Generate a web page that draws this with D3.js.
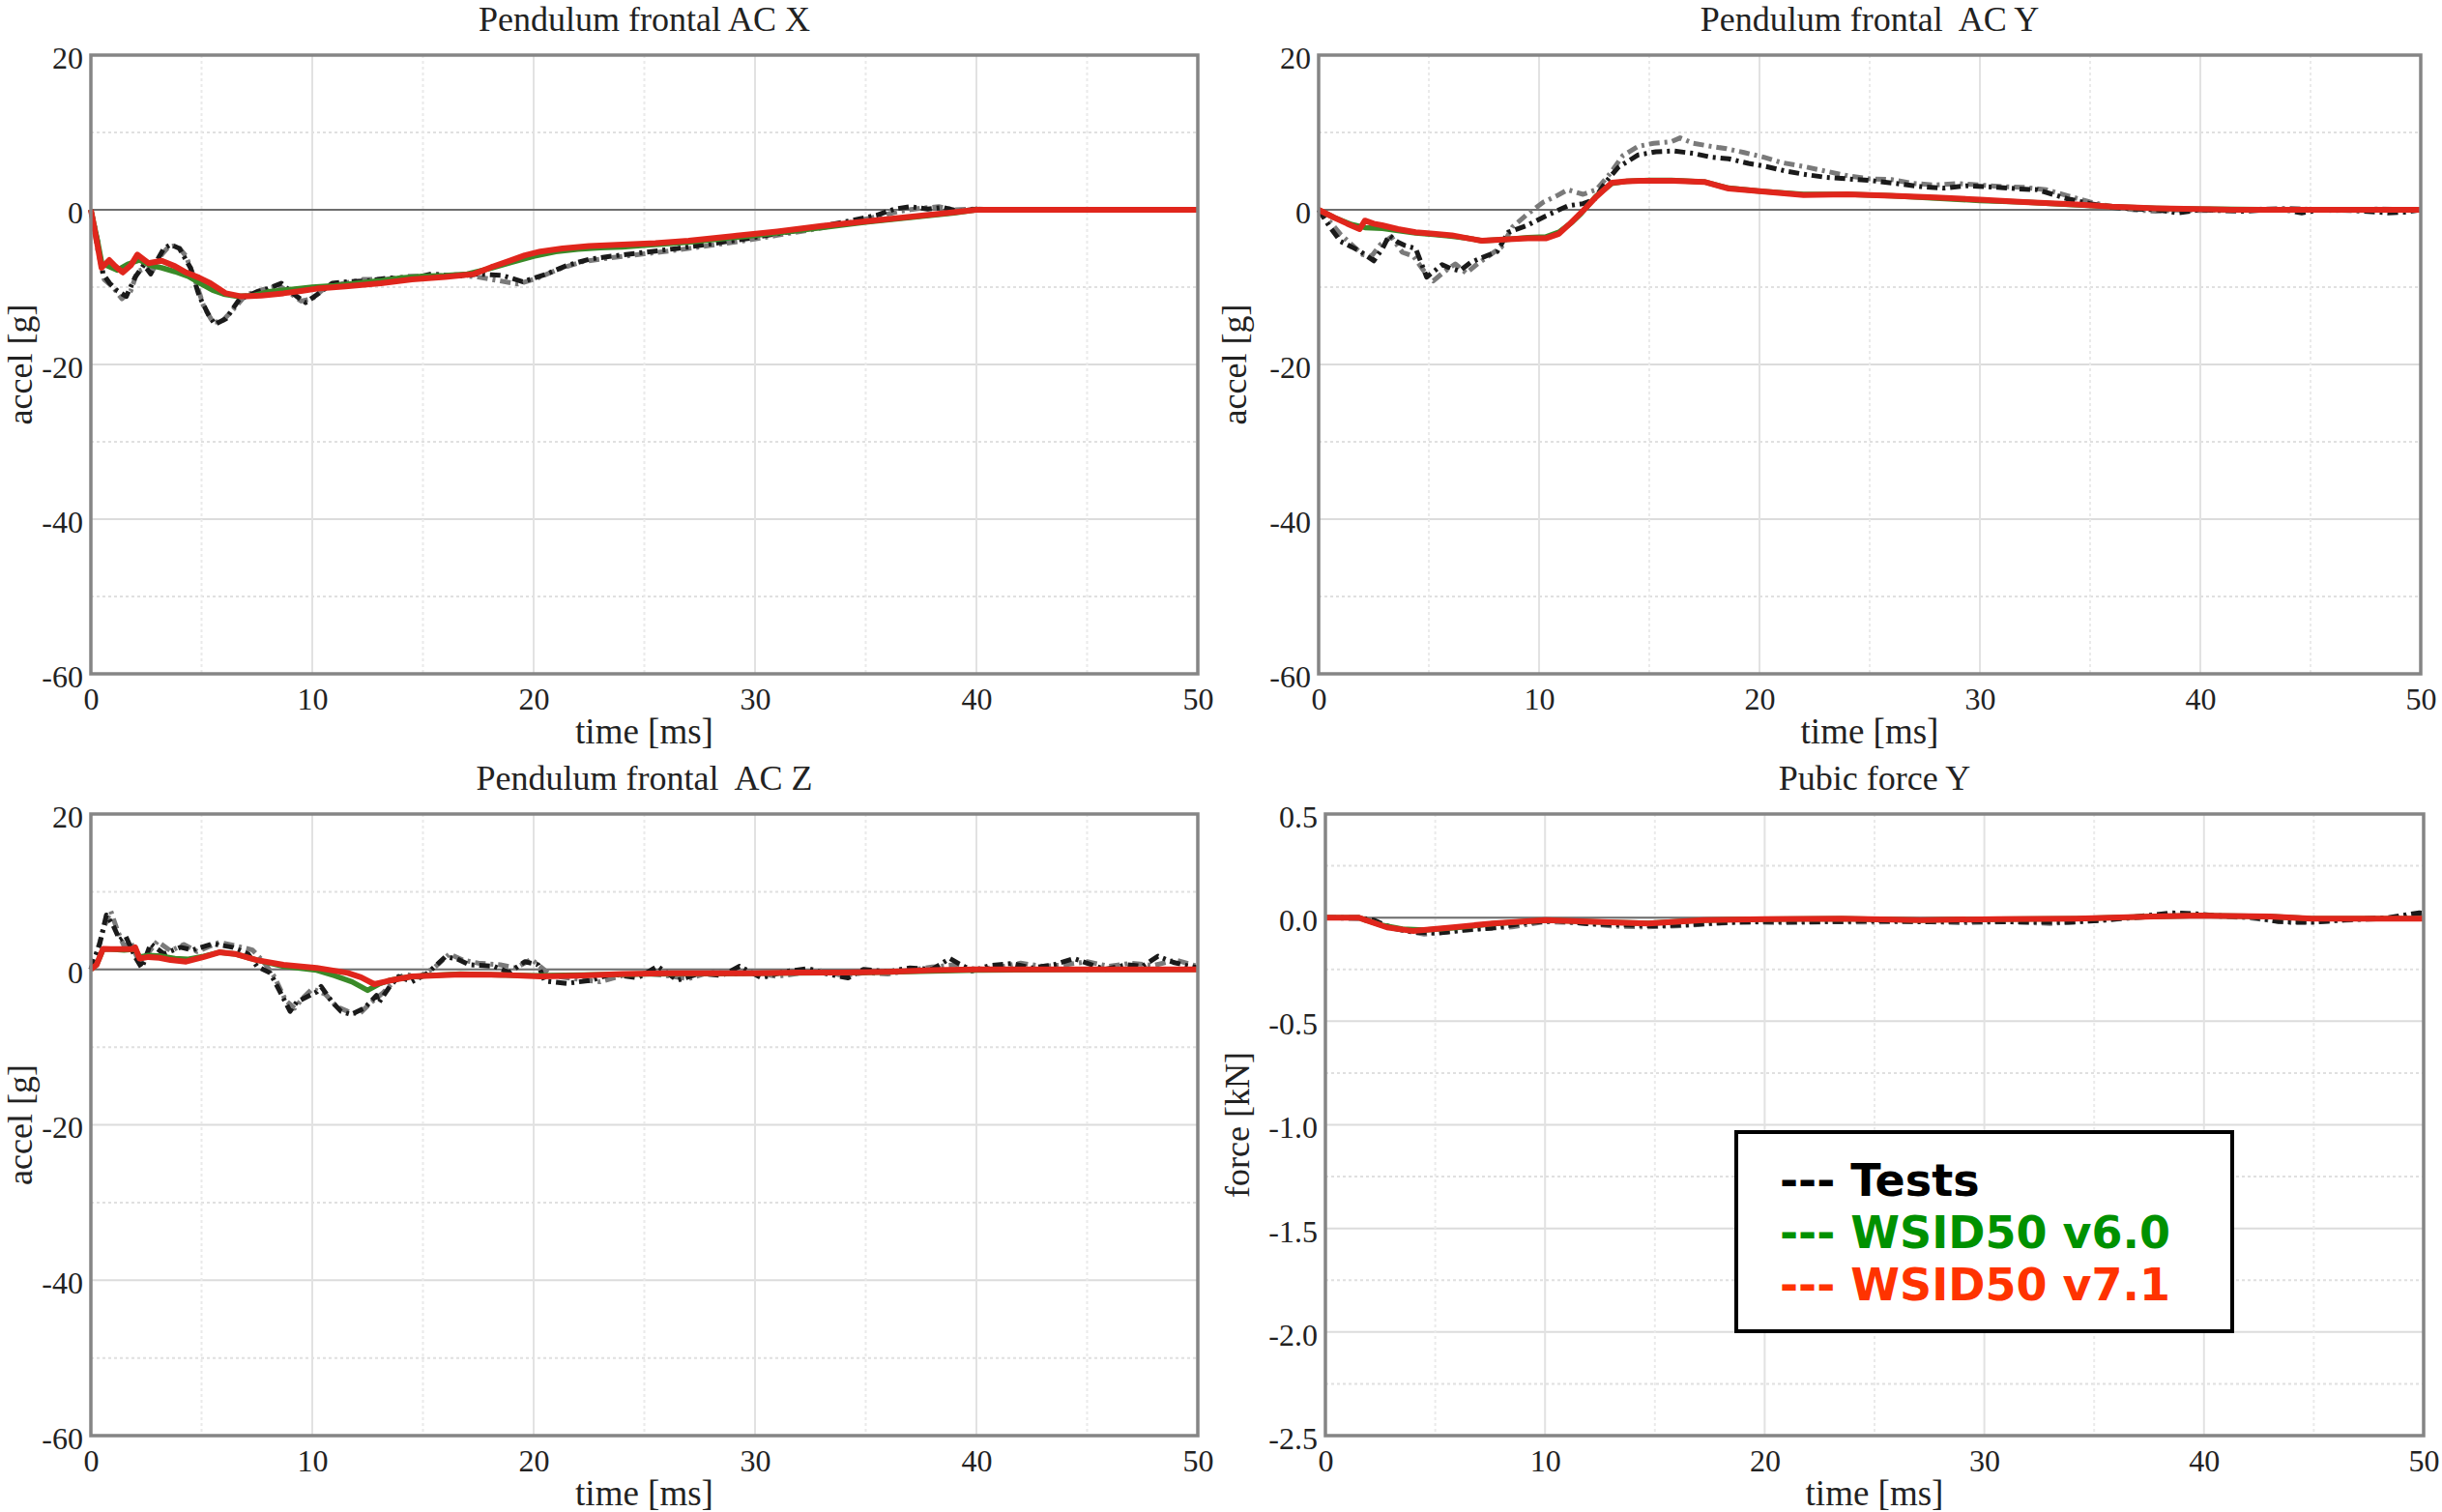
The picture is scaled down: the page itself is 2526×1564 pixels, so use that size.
<!DOCTYPE html>
<html>
<head>
<meta charset="utf-8">
<script src="https://cdn.jsdelivr.net/npm/d3@7"></script>
<style>
  html, body { margin: 0; padding: 0; background: #fff; }
  svg { display: block; }
  text { white-space: pre; }
</style>
</head>
<body>
<svg id="chart" width="2526" height="1564"></svg>
<script>
// ---------------- DATA ----------------
const panelTitles = ["Pendulum frontal AC X", "Pendulum frontal  AC Y", "Pendulum frontal  AC Z", "Pubic force Y"];
const yLabels = ["accel [g]", "accel [g]", "accel [g]", "force [kN]"];
const xLabel = "time [ms]";
const xTicks = [0, 10, 20, 30, 40, 50];
const accelTicks = [20, 0, -20, -40, -60];
const forceTicks = [0.5, 0.0, -0.5, -1.0, -1.5, -2.0, -2.5];
const seriesNames = ["Tests", "WSID50 v6.0", "WSID50 v7.1"];

// Pendulum frontal AC X  [time ms, accel g]
const acxTest1 = [[0,0],[0.3,-4],[0.55,-8.3],[0.85,-9.5],[1.2,-10.5],[1.6,-11.2],[2.0,-8.7],[2.4,-7.1],[2.7,-8.3],[3.0,-6.5],[3.3,-5],[3.6,-4.5],[4.0,-5],[4.5,-7.5],[4.9,-11.2],[5.3,-13.5],[5.6,-14.8],[6.1,-14.1],[6.7,-11.6],[7.5,-10.6],[8.0,-10.2],[8.6,-9.5],[9.0,-10.5],[9.3,-11.2],[9.7,-12],[10.2,-11],[10.9,-9.5],[11.6,-9.3],[12.5,-9.2],[13.5,-8.8],[14.5,-8.9],[15.4,-8.3],[16.5,-8.6],[17.5,-8.3],[18.6,-8.5],[19.5,-9.3],[20.5,-8.4],[21.5,-7.2],[22.5,-6.4],[23.5,-6.0],[25,-5.5],[26.5,-5.0],[28,-4.4],[29.5,-3.8],[31,-3.1],[32.5,-2.4],[34,-1.6],[35.5,-0.7],[36.3,0.1],[37,0.4],[37.8,0.1],[38.5,0.3],[39.2,-0.2],[40,0.1],[41,0],[50,0]];
const acxTest2 = [[0,0],[0.3,-5],[0.6,-9],[1.0,-10],[1.4,-11.5],[1.8,-10.5],[2.1,-8],[2.5,-7.5],[2.8,-7.8],[3.2,-5.8],[3.5,-4.8],[3.9,-4.6],[4.3,-6],[4.7,-9],[5.1,-12.5],[5.5,-14.5],[5.9,-14.5],[6.4,-13],[7.0,-11],[7.8,-10.3],[8.5,-9.8],[9.0,-10.8],[9.5,-11.8],[10.0,-11.5],[10.6,-10],[11.3,-9.6],[12.3,-9.0],[13.3,-9.0],[14.3,-8.6],[15.5,-8.6],[16.5,-8.4],[17.5,-8.7],[18.5,-9.2],[19.3,-9.6],[20.2,-8.8],[21.2,-7.6],[22.2,-6.7],[23.5,-6.2],[25,-5.7],[26.5,-5.2],[28,-4.6],[29.5,-4.0],[31,-3.3],[32.5,-2.6],[34,-1.8],[35.5,-0.9],[36.5,-0.2],[37.5,0.2],[38.3,0.4],[39,0],[40,0.1],[41,0],[50,0]];
const acxV60 = [[0,0],[0.3,-4],[0.5,-7],[0.8,-7.3],[1.2,-7.8],[1.7,-7.0],[2.2,-6.5],[2.7,-7.2],[3.2,-7.5],[3.8,-8.0],[4.4,-8.6],[5.0,-9.6],[5.5,-10.4],[6.0,-10.9],[6.6,-11.2],[7.3,-11.1],[8.0,-10.6],[9.0,-10.3],[10.0,-10.0],[11.0,-9.8],[12.0,-9.5],[13.0,-9.2],[14.0,-8.8],[15.0,-8.6],[16.0,-8.5],[17.0,-8.3],[18.0,-7.6],[19.0,-6.8],[20.0,-6.0],[21.0,-5.4],[22.0,-5.1],[23.0,-4.9],[24.0,-4.8],[25.0,-4.6],[27.0,-4.2],[29.0,-3.6],[31.0,-3.0],[33.0,-2.3],[35.0,-1.6],[37.0,-1.0],[39.0,-0.4],[40.0,0],[50,0]];
const acxV71 = [[0,0],[0.2,-3],[0.48,-7.5],[0.83,-6.5],[1.1,-7.3],[1.44,-8.1],[1.8,-7.2],[2.1,-5.8],[2.6,-6.9],[3.2,-6.6],[3.8,-7.3],[4.3,-8.1],[4.9,-8.8],[5.4,-9.5],[6.1,-10.8],[6.8,-11.2],[7.7,-11.1],[8.7,-10.8],[9.5,-10.5],[10.2,-10.2],[11.5,-9.9],[13.1,-9.5],[14.5,-9.0],[16,-8.7],[17.3,-8.3],[18.1,-7.4],[18.9,-6.6],[19.6,-5.9],[20.3,-5.4],[21.3,-5.0],[22.5,-4.7],[24,-4.5],[25.5,-4.3],[27,-4.0],[29,-3.4],[31,-2.8],[33,-2.1],[35,-1.5],[37,-0.9],[39,-0.3],[40,0],[50,0]];

// Pendulum frontal AC Y
const acyTest1 = [[0,0],[0.5,-2.2],[1.0,-4.1],[1.5,-4.8],[1.9,-5.4],[2.5,-6.6],[2.9,-5],[3.2,-3.3],[3.6,-4.2],[3.9,-4.6],[4.4,-5],[4.9,-8.7],[5.3,-7.8],[5.6,-7.1],[6.0,-7.6],[6.4,-7.9],[6.9,-6.8],[7.4,-6.2],[8.1,-5.4],[8.6,-2.9],[9.4,-2.1],[10.3,-0.8],[11.3,0.5],[12.0,0.8],[12.5,1.3],[13.0,3.5],[13.6,5.5],[14.5,7.1],[15.3,7.5],[16.1,7.6],[17.0,7.3],[17.8,6.8],[18.6,6.6],[19.5,6.0],[20.3,5.6],[21.2,5.0],[22,4.6],[23,4.2],[24,4.0],[25,3.8],[26.2,3.4],[27.3,3.0],[28.4,2.8],[29.4,3.1],[30.8,2.9],[31.8,2.7],[32.6,2.6],[33.3,2.0],[34,1.4],[35,0.8],[36,0.3],[37,0.1],[38,0],[39,-0.4],[40,0],[41,-0.1],[42,-0.2],[43,0],[44,-0.1],[44.6,-0.4],[45.5,0],[47,-0.1],[48.5,-0.4],[49.3,-0.3],[50,0]];
const acyTest2 = [[0,0],[0.5,-1.5],[1.0,-3.2],[1.5,-4.5],[2.0,-5.8],[2.4,-6.0],[2.8,-4.5],[3.3,-3.5],[3.8,-5.5],[4.3,-6.0],[4.8,-8.0],[5.2,-9.2],[5.7,-8.0],[6.2,-7.0],[6.7,-8.2],[7.2,-7.0],[7.8,-5.8],[8.3,-4.8],[8.8,-2.2],[9.5,-0.5],[10.2,1.0],[10.8,1.8],[11.3,2.6],[12.0,2.0],[12.6,2.6],[13.2,4.6],[13.8,7.0],[14.5,8.2],[15.2,8.6],[16.0,8.8],[16.4,9.3],[17.0,8.6],[17.8,8.2],[18.5,7.9],[19.3,7.4],[20.2,6.8],[21,6.1],[22,5.6],[23,5.0],[24,4.4],[25,4.0],[26,3.9],[27,3.4],[28,3.2],[29,3.4],[30,3.2],[31,3.0],[32,2.9],[33,2.6],[34,1.8],[35,1.0],[36,0.4],[37,0],[38,-0.2],[39,0],[40,-0.1],[42,0],[44,0.2],[46,-0.1],[48,0.1],[50,0]];
const acyV60 = [[0,0],[0.7,-1],[1.5,-1.9],[2.1,-2.3],[2.9,-2.4],[3.6,-2.7],[4.4,-3.0],[5.2,-3.2],[6.0,-3.4],[6.8,-3.7],[7.4,-4.0],[8.6,-3.8],[9.5,-3.6],[10.3,-3.5],[10.9,-2.9],[11.5,-1.6],[11.9,-0.5],[12.6,1.8],[13.3,3.4],[14.0,3.7],[15,3.8],[16,3.8],[17.5,3.6],[18.6,2.8],[20,2.4],[22,2.0],[24,2.0],[26,1.8],[28,1.5],[30,1.2],[32,1.0],[34,0.7],[36,0.4],[38,0.2],[40,0.1],[44,0],[50,0]];
const acyV71 = [[0,0],[0.7,-1],[1.3,-1.8],[1.86,-2.5],[2.1,-1.4],[2.5,-1.8],[2.87,-2.0],[3.6,-2.5],[4.4,-2.9],[5.2,-3.1],[6.05,-3.3],[6.8,-3.7],[7.4,-4.0],[8.0,-3.9],[8.6,-3.8],[9.5,-3.7],[10.3,-3.7],[10.9,-3.1],[11.4,-1.8],[11.9,-0.4],[12.6,1.7],[13.3,3.5],[14.0,3.7],[14.6,3.75],[16.1,3.75],[17.5,3.6],[18.6,2.75],[20,2.4],[22,1.9],[24,2.0],[26,1.8],[28,1.6],[30,1.3],[32,1.0],[34.4,0.7],[36,0.4],[38,0.2],[41.4,0],[50,0]];

// Pendulum frontal AC Z
const aczTest1 = [[0,0],[0.4,3.3],[0.7,7.0],[1.0,5.7],[1.3,3.8],[1.57,4.3],[2.0,1.6],[2.3,0.2],[2.7,3.3],[3.3,2.0],[4.05,2.85],[4.6,2.5],[5.5,3.3],[6.4,2.85],[7.1,2.0],[7.5,0.4],[8.1,-0.45],[8.55,-2.9],[9.0,-5.4],[9.3,-4.2],[10.2,-2.9],[10.4,-2.2],[10.9,-4.2],[11.3,-5.4],[11.75,-5.8],[12.35,-5.0],[12.9,-3.35],[13.0,-4.3],[13.5,-2.2],[13.9,-0.9],[14.5,-1.6],[15.2,-0.5],[15.7,0.8],[16.0,1.6],[16.5,1.4],[17.1,0.6],[18.2,0.4],[18.9,-0.4],[19.6,1.0],[20.2,0.6],[20.5,-1.5],[21.5,-1.8],[22.6,-1.4],[23.5,-0.6],[24.7,-1.1],[25.6,0.4],[26.5,-1.4],[27.5,-0.5],[28.5,-0.8],[29.3,0.4],[30.3,-1.1],[31.3,-0.3],[32.4,0.1],[33.3,-0.6],[34.2,-1.1],[34.9,0],[36,-0.3],[37,0.2],[38,0],[38.8,1.4],[39.8,-0.2],[40.6,0.5],[41.6,0.75],[42.5,0.2],[43.5,0.6],[44.4,1.4],[45.8,0],[46.8,0.6],[47.5,0.4],[48.2,1.7],[48.9,0.9],[49.5,0.5],[50,0.2]];
const aczTest2 = [[0,0],[0.3,2.5],[0.6,5.5],[0.9,7.5],[1.2,5.0],[1.5,3.0],[1.8,3.5],[2.2,0.8],[2.5,1.8],[3.0,3.6],[3.6,2.4],[4.2,3.2],[4.8,2.3],[5.8,3.5],[6.6,3.0],[7.3,2.5],[7.8,1.0],[8.3,-1.0],[8.8,-4.0],[9.2,-5.0],[9.6,-3.6],[10.0,-2.5],[10.6,-3.2],[11.1,-4.8],[11.6,-5.4],[12.1,-5.8],[12.6,-4.4],[13.2,-3.0],[13.7,-1.5],[14.2,-0.6],[14.8,-1.0],[15.5,0.2],[16.2,2.0],[16.8,1.2],[17.5,0.8],[18.5,0.6],[19.2,0.2],[19.9,1.3],[20.8,-0.8],[21.8,-1.2],[23,-1.6],[24,-0.8],[25,-0.5],[26,-0.8],[27,-1.2],[28,-0.3],[29,-0.6],[30,-0.4],[31,-0.9],[32,-0.5],[33,-0.2],[34,-0.8],[35,-0.4],[36,-0.6],[37,-0.1],[38,0.3],[39,0.6],[40,0],[41,0.3],[42,0.8],[43,0.4],[44,0.6],[45,1.0],[46,0.4],[47,0.8],[48,0.5],[49,1.2],[50,0.4]];
const aczV60 = [[0,0],[0.26,0.6],[0.55,2.6],[0.9,2.6],[1.5,2.5],[2.0,2.6],[2.2,1.6],[2.6,1.8],[3.2,1.7],[3.8,1.4],[4.4,1.3],[5.1,1.7],[5.8,2.2],[6.5,2.0],[7.5,1.2],[8.7,0.4],[10.2,-0.1],[11.0,-0.8],[11.8,-1.6],[12.5,-2.7],[13.0,-1.9],[13.5,-1.4],[14.5,-0.9],[16.7,-0.6],[20,-0.8],[25,-0.6],[30,-0.5],[35,-0.4],[40,-0.1],[45,0],[50,0]];
const aczV71 = [[0,0],[0.26,0.6],[0.55,2.65],[0.9,2.6],[1.4,2.6],[1.86,2.6],[2.0,2.85],[2.2,1.4],[2.6,1.6],[3.1,1.5],[3.6,1.2],[4.3,1.0],[5.1,1.6],[5.8,2.2],[6.5,2.0],[7.5,1.2],[8.7,0.6],[10.2,0.2],[11.6,-0.45],[12.2,-1.0],[12.8,-1.9],[13.4,-1.5],[14.5,-0.9],[16.7,-0.65],[18.5,-0.7],[20.3,-0.9],[22,-0.8],[24,-0.6],[26,-0.5],[28,-0.5],[30,-0.5],[32,-0.4],[34,-0.4],[36,-0.3],[38,-0.1],[40,0],[45,0],[50,0]];

// Pubic force Y  [time ms, force kN]
const pubTest1 = [[0,0],[1.5,0],[2.2,-0.012],[3.0,-0.05],[4.0,-0.07],[5.1,-0.075],[6.3,-0.06],[7.6,-0.05],[9.3,-0.023],[10.5,-0.015],[12,-0.03],[13.6,-0.035],[15,-0.04],[16.4,-0.035],[18,-0.025],[20,-0.019],[22,-0.02],[23.5,-0.019],[25,-0.015],[27.1,-0.02],[29,-0.018],[31,-0.02],[33.8,-0.023],[35.5,-0.012],[37,0.005],[38.5,0.023],[39.5,0.019],[40.5,0.01],[42,0.005],[43.4,-0.019],[44.9,-0.023],[46.5,-0.01],[48.4,0],[49.8,0.023],[50,0.02]];
const pubTest2 = [[0,0],[1.5,-0.005],[2.5,-0.03],[3.5,-0.06],[4.5,-0.08],[5.5,-0.07],[7,-0.055],[8.5,-0.045],[10,-0.02],[11.5,-0.025],[13,-0.04],[14.5,-0.045],[16,-0.04],[17.5,-0.03],[19,-0.02],[21,-0.025],[23,-0.02],[25,-0.022],[27,-0.018],[29,-0.025],[31,-0.02],[33,-0.028],[35,-0.015],[37,0],[38.5,0.015],[40,0.01],[42,0],[44,-0.025],[46,-0.015],[48,-0.005],[50,0.01]];
const pubV60 = [[0,0],[1.5,0],[2.5,-0.035],[3.5,-0.055],[4.5,-0.06],[6,-0.048],[7.6,-0.03],[10,-0.012],[12.9,-0.022],[14.7,-0.027],[17.2,-0.012],[20,-0.007],[23.5,-0.005],[27.1,-0.012],[30.6,-0.007],[34.2,-0.005],[37.7,0.005],[39.9,0.01],[43,0.005],[44.9,-0.005],[50,-0.005]];
const pubV71 = [[0,0],[1.5,0],[2.8,-0.047],[4.0,-0.065],[5.8,-0.047],[7.6,-0.028],[10,-0.012],[12.9,-0.023],[14.7,-0.028],[17.2,-0.012],[20,-0.007],[23.5,-0.005],[27.1,-0.012],[30.6,-0.007],[34.2,-0.005],[37.7,0.005],[39.9,0.01],[43,0.005],[44.9,-0.005],[50,-0.005]];

// ---------------- LAYOUT / STYLE ----------------
const panels = [
  { title: panelTitles[0], ylab: yLabels[0], ticks: accelTicks, fmt: d => String(d), box: [94, 57, 1239, 697], labX: 33, series: [acxTest2, acxTest1, acxV60, acxV71] },
  { title: panelTitles[1], ylab: yLabels[1], ticks: accelTicks, fmt: d => String(d), box: [1364, 57, 2504, 697], labX: 1289, series: [acyTest2, acyTest1, acyV60, acyV71] },
  { title: panelTitles[2], ylab: yLabels[2], ticks: accelTicks, fmt: d => String(d), box: [94, 842, 1239, 1485], labX: 33, series: [aczTest2, aczTest1, aczV60, aczV71] },
  { title: panelTitles[3], ylab: yLabels[3], ticks: forceTicks, fmt: d => d.toFixed(1), box: [1371, 842, 2507, 1485], labX: 1292, series: [pubTest2, pubTest1, pubV60, pubV71] }
];
const lineStyles = [
  { color: "#7a7a7a", width: 5, dash: "11 5 3 5" },
  { color: "#1a1a1a", width: 5, dash: "11 5 3 5" },
  { color: "#3a8a28", width: 5.5, dash: null },
  { color: "#e0261c", width: 6, dash: null }
];
const serif = "'Liberation Serif', 'Times New Roman', serif";

const svg = d3.select("#chart");
svg.append("rect").attr("width", 2526).attr("height", 1564).attr("fill", "#fff");

panels.forEach(p => {
  const [x0, y0, x1, y1] = p.box;
  const yMin = d3.min(p.ticks), yMax = d3.max(p.ticks);
  const x = d3.scaleLinear().domain([0, 50]).range([x0, x1]);
  const y = d3.scaleLinear().domain([yMin, yMax]).range([y1, y0]);
  const g = svg.append("g");
  const step = p.ticks[0] - p.ticks[1];

  // minor (dotted) horizontal grid at half steps
  const minorY = d3.range(yMin + step / 2, yMax, step);
  g.selectAll(".hminor").data(minorY).join("line")
    .attr("x1", x0).attr("x2", x1).attr("y1", d => y(d)).attr("y2", d => y(d))
    .attr("stroke", "#e0e0e0").attr("stroke-width", 2).attr("stroke-dasharray", "3 3");
  // major horizontal grid
  g.selectAll(".hmajor").data(p.ticks.filter(d => d !== yMin && d !== yMax)).join("line")
    .attr("x1", x0).attr("x2", x1).attr("y1", d => y(d)).attr("y2", d => y(d))
    .attr("stroke", "#dcdcdc").attr("stroke-width", 2);
  // vertical grid (5 ms dotted, 10 ms solid)
  g.selectAll(".vminor").data(d3.range(5, 50, 10)).join("line")
    .attr("x1", d => x(d)).attr("x2", d => x(d)).attr("y1", y0).attr("y2", y1)
    .attr("stroke", "#eaeaea").attr("stroke-width", 2).attr("stroke-dasharray", "3 3");
  g.selectAll(".vmajor").data(xTicks.filter(d => d > 0 && d < 50)).join("line")
    .attr("x1", d => x(d)).attr("x2", d => x(d)).attr("y1", y0).attr("y2", y1)
    .attr("stroke", "#e2e2e2").attr("stroke-width", 2);
  // zero line
  g.append("line").attr("x1", x0).attr("x2", x1).attr("y1", y(0)).attr("y2", y(0))
    .attr("stroke", "#6e6e6e").attr("stroke-width", 2);

  // curves
  const line = d3.line().x(d => x(d[0])).y(d => y(d[1])).curve(d3.curveLinear);
  p.series.forEach((s, i) => {
    const st = lineStyles[i];
    g.append("path").datum(s).attr("d", line)
      .attr("fill", "none").attr("stroke", st.color).attr("stroke-width", st.width)
      .attr("stroke-linejoin", "round")
      .attr("stroke-dasharray", st.dash);
  });

  // frame
  g.append("rect").attr("x", x0).attr("y", y0).attr("width", x1 - x0).attr("height", y1 - y0)
    .attr("fill", "none").attr("stroke", "#858585").attr("stroke-width", 3.5);

  // axes (d3 axis for tick labels)
  const ax = g.append("g").attr("transform", `translate(0,${y1})`)
    .call(d3.axisBottom(x).tickValues(xTicks).tickSize(0).tickPadding(0).tickFormat(d => String(d)));
  ax.select(".domain").remove();
  ax.selectAll("text").attr("font-family", serif).attr("font-size", 32).attr("fill", "#222")
    .attr("dy", null).attr("y", 37);

  const ay = g.append("g").attr("transform", `translate(${x0},0)`)
    .call(d3.axisLeft(y).tickValues(p.ticks).tickSize(0).tickPadding(0).tickFormat(p.fmt));
  ay.select(".domain").remove();
  ay.selectAll("text").attr("font-family", serif).attr("font-size", 32).attr("fill", "#222")
    .attr("x", -8).attr("dy", "0.42em");

  // titles and axis labels
  g.append("text").attr("x", (x0 + x1) / 2).attr("y", y0 - 25)
    .attr("text-anchor", "middle").attr("font-family", serif).attr("font-size", 36)
    .attr("fill", "#222").text(p.title);
  g.append("text").attr("x", (x0 + x1) / 2).attr("y", y1 + 72)
    .attr("text-anchor", "middle").attr("font-family", serif).attr("font-size", 37)
    .attr("fill", "#222").text(xLabel);
  const ly = (y0 + y1) / 2;
  g.append("text").attr("transform", `translate(${p.labX},${ly}) rotate(-90)`)
    .attr("text-anchor", "middle").attr("font-family", serif).attr("font-size", 36)
    .attr("fill", "#222").text(p.ylab);
});

// legend
const legendColors = ["#000000", "#009100", "#ff3300"];
const lg = svg.append("g");
lg.append("rect").attr("x", 1796).attr("y", 1171).attr("width", 513).attr("height", 206)
  .attr("fill", "#fff").attr("stroke", "#000").attr("stroke-width", 4);
lg.selectAll("text").data(seriesNames).join("text")
  .attr("x", 1841).attr("y", (d, i) => 1237 + i * 54)
  .attr("font-family", "'DejaVu Sans', Verdana, sans-serif").attr("font-weight", "bold")
  .attr("font-size", 46).attr("fill", (d, i) => legendColors[i])
  .text(d => "--- " + d);
</script>
</body>
</html>
